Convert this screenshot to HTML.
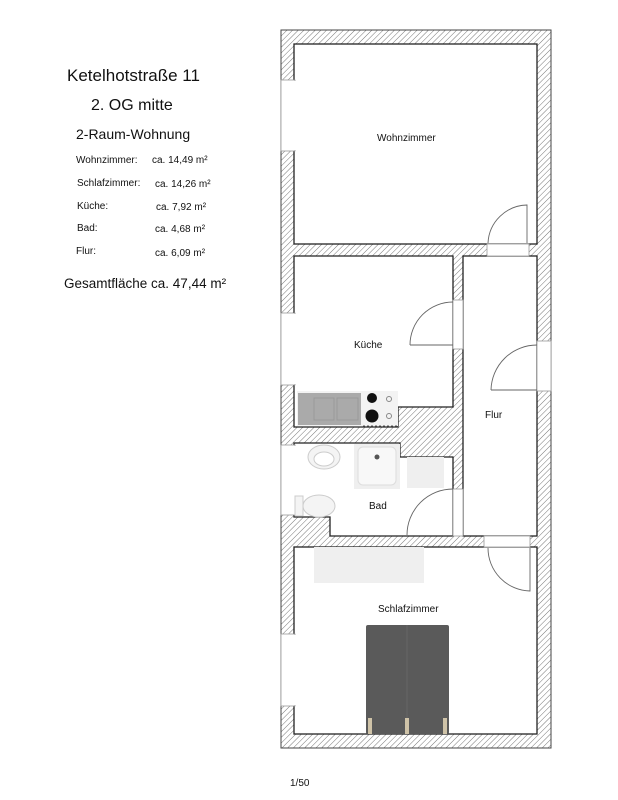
<!DOCTYPE html>
<html><head><meta charset="utf-8"><style>
body{margin:0;background:#fff;width:618px;height:800px;overflow:hidden}
svg{display:block}
text{font-family:"Liberation Sans","DejaVu Sans",sans-serif;fill:#111}
</style></head><body>
<svg width="618" height="800" viewBox="0 0 618 800" xmlns="http://www.w3.org/2000/svg">
<defs>
<pattern id="h" patternUnits="userSpaceOnUse" width="4" height="4" patternTransform="rotate(45)">
<rect width="4" height="4" fill="#fff"/><line x1="0" y1="0" x2="0" y2="4" stroke="#777" stroke-width="1"/>
</pattern>
</defs>
<rect width="618" height="800" fill="#fff"/>
<!-- text left -->
<text x="67" y="81" font-size="17">Ketelhotstraße 11</text>
<text x="91" y="110" font-size="16">2. OG mitte</text>
<text x="76" y="139" font-size="14">2-Raum-Wohnung</text>
<g font-size="10">
<text x="76" y="163">Wohnzimmer:</text><text x="152" y="163">ca. 14,49 m²</text>
<text x="77" y="186">Schlafzimmer:</text><text x="155" y="187">ca. 14,26 m²</text>
<text x="77" y="209">Küche:</text><text x="156" y="210">ca. 7,92 m²</text>
<text x="77" y="231">Bad:</text><text x="155" y="232">ca. 4,68 m²</text>
<text x="76" y="254">Flur:</text><text x="155" y="256">ca. 6,09 m²</text>
</g>
<text x="64" y="288" font-size="13.5">Gesamtfläche ca. 47,44 m²</text>
<text x="290" y="786" font-size="10">1/50</text>

<!-- building -->
<rect x="281" y="30" width="270" height="718" fill="url(#h)" stroke="#444" stroke-width="1"/>
<g fill="#fff" stroke="#222" stroke-width="1.3">
<rect x="294" y="44" width="243" height="200"/>
<polygon points="294,256 453,256 453,407 398,407 398,427 294,427"/>
<rect x="463" y="256" width="74" height="280"/>
<polygon points="294,443 400,443 400,457 453,457 453,536 330,536 330,517 294,517"/>
<rect x="294" y="547" width="243" height="187"/>
</g>
<!-- openings -->
<g fill="#fff" stroke="#999" stroke-width="0.8">
<rect x="281" y="80" width="14" height="71"/>
<rect x="281" y="313" width="14" height="72"/>
<rect x="281" y="445" width="14" height="70"/>
<rect x="281" y="634" width="14" height="72"/>
<rect x="487" y="244" width="42" height="12"/>
<rect x="453" y="300" width="10" height="49"/>
<rect x="537" y="341" width="14" height="50"/>
<rect x="453" y="489" width="10" height="47"/>
<rect x="484" y="536" width="46" height="11"/>
</g>
<g fill="none" stroke="#fff" stroke-width="2">
<line x1="295" y1="81" x2="295" y2="150"/><line x1="295" y1="314" x2="295" y2="384"/>
<line x1="295" y1="446" x2="295" y2="514"/><line x1="295" y1="635" x2="295" y2="705"/>
</g>
<!-- door arcs -->
<g fill="none" stroke="#666" stroke-width="0.9">
<path d="M488,243 A40,40 0 0 1 527,205 L527,243"/>
<path d="M410,345 A43,43 0 0 1 453,302"/>
<line x1="410" y1="345" x2="453" y2="345"/>
<path d="M491,390 A46,46 0 0 1 537,345"/>
<line x1="491" y1="390" x2="537" y2="390"/>
<path d="M407,535 A46,46 0 0 1 453,489"/>
<path d="M488,548 A43,43 0 0 0 530,591 L530,548"/>
</g>
<!-- kitchen counter -->
<rect x="297" y="391" width="101" height="35" fill="#f3f3f3"/>
<rect x="298" y="393" width="63" height="32" fill="#aaa"/>
<rect x="314" y="398" width="20" height="22" fill="none" stroke="#999"/>
<rect x="337" y="398" width="21" height="22" fill="none" stroke="#999"/>
<circle cx="372" cy="398" r="5" fill="#111"/>
<circle cx="372" cy="416" r="6.5" fill="#111"/>
<circle cx="389" cy="399" r="2.5" fill="none" stroke="#888"/>
<circle cx="389" cy="416" r="2.5" fill="none" stroke="#888"/>
<line x1="363" y1="426" x2="398" y2="426" stroke="#555" stroke-dasharray="2,2"/>
<!-- bathroom -->
<ellipse cx="324" cy="457" rx="16" ry="12" fill="#f4f4f4" stroke="#ccc"/>
<ellipse cx="324" cy="459" rx="10" ry="7" fill="#fff" stroke="#ccc"/>
<rect x="354" y="444" width="46" height="45" fill="#efefef"/>
<rect x="358" y="447" width="38" height="38" rx="5" fill="#f8f8f8" stroke="#ddd"/>
<circle cx="377" cy="457" r="2.5" fill="#555"/>
<rect x="407" y="457" width="37" height="31" fill="#efefef"/>
<rect x="295" y="496" width="8" height="20" fill="#f4f4f4" stroke="#ccc"/>
<ellipse cx="319" cy="506" rx="16" ry="11" fill="#f4f4f4" stroke="#ccc"/>
<!-- bedroom -->
<rect x="314" y="547" width="110" height="36" fill="#efefef"/>
<rect x="366" y="625" width="83" height="109" rx="2" fill="#5a5a5a"/>
<line x1="407" y1="625" x2="407" y2="734" stroke="#666"/>
<rect x="368" y="718" width="4" height="16" fill="#cfc3a8"/>
<rect x="405" y="718" width="4" height="16" fill="#cfc3a8"/>
<rect x="443" y="718" width="4" height="16" fill="#cfc3a8"/>
<!-- labels -->
<g font-size="10">
<text x="377" y="141">Wohnzimmer</text>
<text x="354" y="348">Küche</text>
<text x="485" y="418">Flur</text>
<text x="369" y="509">Bad</text>
<text x="378" y="612">Schlafzimmer</text>
</g>
</svg>
</body></html>
